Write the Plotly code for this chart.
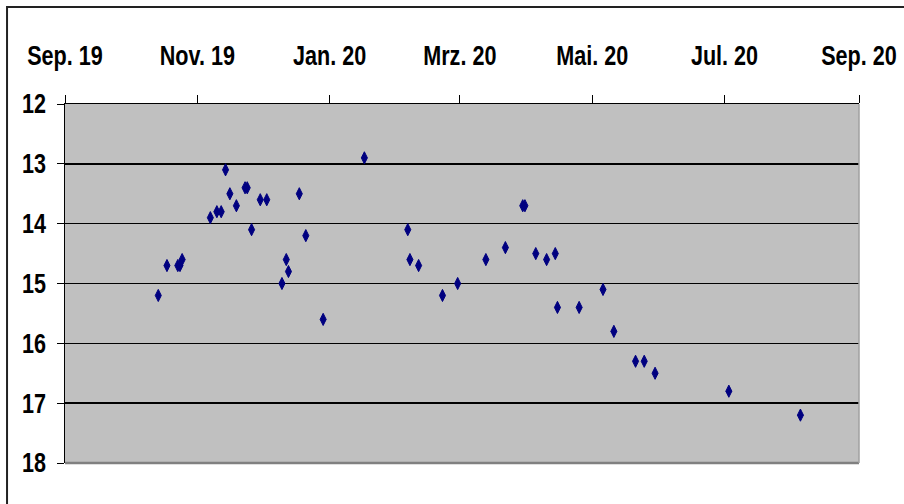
import plotly.graph_objects as go

dates = [
    "2019-10-14", "2019-10-18", "2019-10-23", "2019-10-24", "2019-10-25",
    "2019-11-07", "2019-11-10", "2019-11-12", "2019-11-14", "2019-11-16",
    "2019-11-19", "2019-11-23", "2019-11-24", "2019-11-26", "2019-11-30",
    "2019-12-03", "2019-12-10", "2019-12-12", "2019-12-13", "2019-12-18",
    "2019-12-21", "2019-12-29", "2020-01-17", "2020-02-06", "2020-02-07",
    "2020-02-11", "2020-02-22", "2020-02-29", "2020-03-13", "2020-03-22",
    "2020-03-30", "2020-03-31", "2020-04-05", "2020-04-10", "2020-04-14",
    "2020-04-15", "2020-04-25", "2020-05-06", "2020-05-11", "2020-05-21",
    "2020-05-25", "2020-05-30", "2020-07-03", "2020-08-05",
]
values = [
    15.2, 14.7, 14.7, 14.7, 14.6,
    13.9, 13.8, 13.8, 13.1, 13.5,
    13.7, 13.4, 13.4, 14.1, 13.6,
    13.6, 15.0, 14.6, 14.8, 13.5,
    14.2, 15.6, 12.9, 14.1, 14.6,
    14.7, 15.2, 15.0, 14.6, 14.4,
    13.7, 13.7, 14.5, 14.6, 14.5,
    15.4, 15.4, 15.1, 15.8, 16.3,
    16.3, 16.5, 16.8, 17.2,
]
tick_dates = ["2019-09-01", "2019-11-01", "2020-01-01", "2020-03-01",
              "2020-05-01", "2020-07-01", "2020-09-01"]
tick_labels = ["Sep. 19", "Nov. 19", "Jan. 20", "Mrz. 20",
               "Mai. 20", "Jul. 20", "Sep. 20"]
y_ticks = [12, 13, 14, 15, 16, 17, 18]

FONT = "Liberation Sans, Arial, sans-serif"

fig = go.Figure()
fig.add_trace(go.Scatter(
    x=dates, y=values, mode="markers",
    marker=dict(symbol="diamond-tall", size=8.7, color="#000080",
                line=dict(color="#000080", width=1)),
    showlegend=False,
))

fig.update_layout(
    width=904, height=504, autosize=False,
    margin=dict(l=65, r=45, t=104, b=41),
    plot_bgcolor="#c0c0c0", paper_bgcolor="white",
    font=dict(family=FONT, color="black"),
    xaxis=dict(
        type="date", side="top", automargin=False,
        range=["2019-09-01", "2020-09-01"],
        tickmode="array", tickvals=tick_dates, ticktext=tick_labels,
        ticks="outside", ticklen=8, tickwidth=1, tickcolor="black",
        showline=True, linecolor="black", linewidth=1.5,
        showgrid=False, zeroline=False,
        tickfont=dict(family=FONT, size=27, weight="bold", color="black"),
        ticklabelstandoff=19, ticklabeloverflow="allow",
    ),
    yaxis=dict(
        range=[18, 12], tickmode="array", tickvals=y_ticks, automargin=False,
        ticks="outside", ticklen=7, tickwidth=1, tickcolor="black",
        showline=True, linecolor="black", linewidth=1.5,
        showgrid=True, gridcolor="black", gridwidth=1.5,
        zeroline=False,
        tickfont=dict(family=FONT, size=27, weight="bold", color="black"),
        ticklabelstandoff=5, ticklabeloverflow="allow",
    ),
    shapes=[
        dict(type="line", xref="paper", yref="paper", x0=0, x1=1, y0=0, y1=0,
             line=dict(color="#808080", width=2.5), layer="above"),
        dict(type="line", xref="paper", yref="paper", x0=1, x1=1, y0=0, y1=1,
             line=dict(color="#a0a0a0", width=1.5), layer="above"),
        dict(type="rect", xref="paper", yref="paper",
             x0=-0.073, x1=1.3, y0=-0.4, y1=1.2702,
             line=dict(color="#222222", width=2), layer="above"),
    ],
)

post = """
document.body.style.margin = '0';
document.body.style.overflow = 'hidden';
var gd = document.getElementById('{plot_id}');
function squish(){
  gd.querySelectorAll('.xtick text, .ytick text').forEach(function(t){
    if (t.getAttribute('data-sq')) return;
    var x = parseFloat(t.getAttribute('x')) || 0;
    var tr = t.getAttribute('transform') || '';
    t.setAttribute('transform', tr + ' translate(' + x + ',0) scale(0.8,1) translate(' + (-x) + ',0)');
    t.setAttribute('data-sq', '1');
  });
}
squish();
gd.on('plotly_afterplot', squish);
"""

fig.write_html("out.html", post_script=post,
               config={"displayModeBar": False, "staticPlot": True})
